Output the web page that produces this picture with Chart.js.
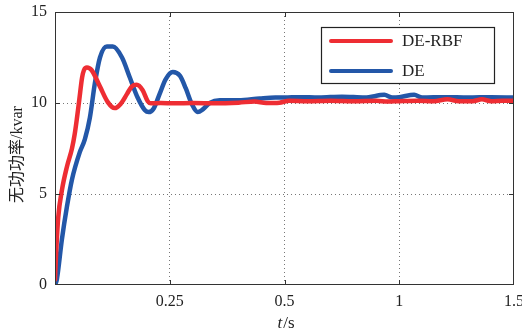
<!DOCTYPE html>
<html>
<head>
<meta charset="utf-8">
<script src="https://cdn.jsdelivr.net/npm/chart.js@4.4.1/dist/chart.umd.min.js"></script>
<style>
    html, body { margin: 0; padding: 0; background: #fff; }
    #wrap { width: 522px; height: 331px; }
</style>
</head>
<body>
<div id="wrap"><canvas id="chart" width="522" height="331"></canvas></div>
<script>
// axis: the time ticks are evenly spaced on the picture, so t is mapped piecewise between them
var tickValues = [0, 0.25, 0.5, 1, 1.5];
var tickLabels = ['', '0.25', '0.5', '1', '1.5'];
var yTickValues = [0, 5, 10, 15];

var seriesNames = ['DE-RBF', 'DE'];
var seriesColors = ['#ee2d33', '#2357a8'];

// DE-RBF
var rbfTime = [0, 0.002, 0.007, 0.015, 0.026, 0.037, 0.043, 0.048, 0.053, 0.059, 0.063, 0.0696, 0.080, 0.098,
    0.115, 0.130, 0.143, 0.157, 0.167, 0.178, 0.191, 0.202, 0.209, 0.23, 0.26, 0.30, 0.35, 0.40, 0.435, 0.46,
    0.489, 0.52, 0.60, 0.70, 0.80, 0.90, 0.95, 1.0, 1.08, 1.15, 1.21, 1.26, 1.32, 1.36, 1.40, 1.45, 1.5];
var rbfValue = [0.3, 1.5, 3.7, 5.2, 6.5, 7.5, 8.3, 9.2, 10.2, 11.4, 11.8, 11.95, 11.8, 10.9,
    10.05, 9.72, 9.95, 10.5, 10.9, 11.0, 10.7, 10.1, 9.98, 10.0, 9.98, 10.0, 9.98, 10.02, 10.08, 10.0,
    10.02, 10.12, 10.1, 10.13, 10.1, 10.12, 10.08, 10.1, 10.12, 10.1, 10.2, 10.1, 10.1, 10.2, 10.1, 10.12, 10.12];

// DE
var deTime = [0, 0.004, 0.015, 0.026, 0.037, 0.054, 0.065, 0.076, 0.087, 0.098, 0.113, 0.126, 0.146, 0.163,
    0.180, 0.196, 0.204, 0.215, 0.228, 0.241, 0.2565, 0.272, 0.285, 0.298, 0.311, 0.322, 0.337, 0.359, 0.40,
    0.446, 0.48, 0.5, 0.565, 0.65, 0.75, 0.85, 0.935, 0.97, 1.0, 1.065, 1.1, 1.2, 1.3, 1.4, 1.5];
var deValue = [0, 0.3, 2.5, 4.3, 5.8, 7.3, 8.0, 9.2, 11.1, 12.5, 13.1, 13.1, 12.5, 11.4,
    10.3, 9.6, 9.5, 9.7, 10.5, 11.3, 11.7, 11.5, 10.8, 9.95, 9.5, 9.65, 10.0, 10.15, 10.15,
    10.25, 10.3, 10.3, 10.32, 10.3, 10.35, 10.3, 10.45, 10.3, 10.32, 10.45, 10.3, 10.32, 10.3, 10.32, 10.3];

function axisPos(t) {
    for (var i = 0; i < tickValues.length - 1; i++) {
        if (t <= tickValues[i + 1]) {
            return i + (t - tickValues[i]) / (tickValues[i + 1] - tickValues[i]);
        }
    }
    return tickValues.length - 1;
}

function toPoints(times, values) {
    var pts = [];
    for (var i = 0; i < times.length; i++) {
        pts.push({ x: axisPos(times[i]), y: values[i] });
    }
    return pts;
}

var serifFont = "'Liberation Serif', 'Times New Roman', serif";
var cjkFont = "'Liberation Serif', 'Noto Sans CJK SC', serif";

// box, inward ticks, legend and axis titles
var framePlugin = {
    id: 'frame',
    afterDatasetsDraw: function (chart) {
        var ctx = chart.ctx, a = chart.chartArea;
        var xs = chart.scales.x, ys = chart.scales.y;
        ctx.save();
        ctx.strokeStyle = '#333';
        ctx.lineWidth = 1;
        ctx.strokeRect(a.left + 0.5, a.top + 0.5, a.right - a.left - 1, a.bottom - a.top - 1);

        ctx.beginPath();
        for (var i = 1; i < tickValues.length - 1; i++) {
            var px = Math.round(xs.getPixelForValue(i)) + 0.5;
            ctx.moveTo(px, a.bottom); ctx.lineTo(px, a.bottom - 5);
            ctx.moveTo(px, a.top); ctx.lineTo(px, a.top + 5);
        }
        for (var j = 1; j < yTickValues.length - 1; j++) {
            var py = Math.round(ys.getPixelForValue(yTickValues[j])) + 0.5;
            ctx.moveTo(a.left, py); ctx.lineTo(a.left + 5, py);
            ctx.moveTo(a.right, py); ctx.lineTo(a.right - 5, py);
        }
        ctx.stroke();

        // legend
        var bw = 173, bh = 56;
        var bx = a.right - 20 - bw, by = a.top + 15;
        ctx.fillStyle = '#fff';
        ctx.fillRect(bx, by, bw, bh);
        ctx.strokeStyle = '#222';
        ctx.lineWidth = 1.2;
        ctx.strokeRect(bx + 0.5, by + 0.5, bw, bh);
        ctx.font = '17px ' + serifFont;
        ctx.textBaseline = 'middle';
        ctx.textAlign = 'left';
        for (var k = 0; k < seriesNames.length; k++) {
            var ly = by + 14 + k * 30;
            ctx.strokeStyle = seriesColors[k];
            ctx.lineWidth = 4;
            ctx.lineCap = 'round';
            ctx.beginPath();
            ctx.moveTo(bx + 10, ly); ctx.lineTo(bx + 70, ly);
            ctx.stroke();
            ctx.fillStyle = '#222';
            ctx.fillText(seriesNames[k], bx + 81, ly + 1);
        }

        // x title: italic t, upright /s
        ctx.fillStyle = '#222';
        ctx.textBaseline = 'alphabetic';
        ctx.font = 'italic 17px ' + serifFont;
        var tw = ctx.measureText('t').width;
        ctx.font = '17px ' + serifFont;
        var sw = ctx.measureText('/s').width;
        var cx = (a.left + a.right) / 2 + 1;
        var x0 = cx - (tw + sw) / 2;
        ctx.font = 'italic 17px ' + serifFont;
        ctx.fillText('t', x0, 328);
        ctx.font = '17px ' + serifFont;
        ctx.fillText('/s', x0 + tw + 1, 328);

        // y title
        ctx.translate(18, (a.top + a.bottom) / 2 + 6);
        ctx.rotate(-Math.PI / 2);
        ctx.font = '16px ' + cjkFont;
        ctx.textAlign = 'center';
        ctx.textBaseline = 'middle';
        ctx.fillText('无功功率/kvar', 0, 0);
        ctx.restore();
    }
};

var gridColor = function (c) {
    return (c.index === 0 || c.index === c.chart.scales[c.scale.id].ticks.length - 1) ? 'rgba(0,0,0,0)' : '#777';
};

new Chart(document.getElementById('chart'), {
    type: 'line',
    data: {
        datasets: [
            {
                label: seriesNames[0],
                data: toPoints(rbfTime, rbfValue),
                borderColor: seriesColors[0],
                borderWidth: 4.5,
                pointRadius: 0,
                cubicInterpolationMode: 'monotone',
                borderCapStyle: 'round',
                borderJoinStyle: 'round'
            },
            {
                label: seriesNames[1],
                data: toPoints(deTime, deValue),
                borderColor: seriesColors[1],
                borderWidth: 4.5,
                pointRadius: 0,
                cubicInterpolationMode: 'monotone',
                borderCapStyle: 'round',
                borderJoinStyle: 'round'
            }
        ]
    },
    options: {
        responsive: false,
        animation: false,
        devicePixelRatio: 1,
        layout: { padding: { top: 12, right: 8, left: 0, bottom: 0 } },
        plugins: {
            legend: { display: false },
            tooltip: { enabled: false }
        },
        scales: {
            x: {
                type: 'linear',
                min: 0,
                max: tickValues.length - 1,
                afterBuildTicks: function (s) {
                    s.ticks = tickValues.map(function (v, i) { return { value: i }; });
                },
                afterFit: function (s) { s.height = 46; s.paddingLeft = 0; s.paddingRight = 0; },
                grid: { color: gridColor, lineWidth: 1, drawTicks: false },
                border: { display: false, dash: [1, 3] },
                ticks: {
                    padding: 7,
                    maxRotation: 0,
                    color: '#222',
                    font: { family: serifFont, size: 16 },
                    callback: function (v) { return tickLabels[Math.round(v)]; }
                }
            },
            y: {
                min: 0,
                max: 15,
                afterBuildTicks: function (s) {
                    s.ticks = yTickValues.map(function (v) { return { value: v }; });
                },
                afterFit: function (s) { s.width = 55; s.paddingTop = 0; s.paddingBottom = 0; },
                grid: { color: gridColor, lineWidth: 1, drawTicks: false },
                border: { display: false, dash: [1, 3] },
                ticks: {
                    padding: 8,
                    color: '#222',
                    font: { family: serifFont, size: 16 }
                }
            }
        }
    },
    plugins: [framePlugin]
});
</script>
</body>
</html>
